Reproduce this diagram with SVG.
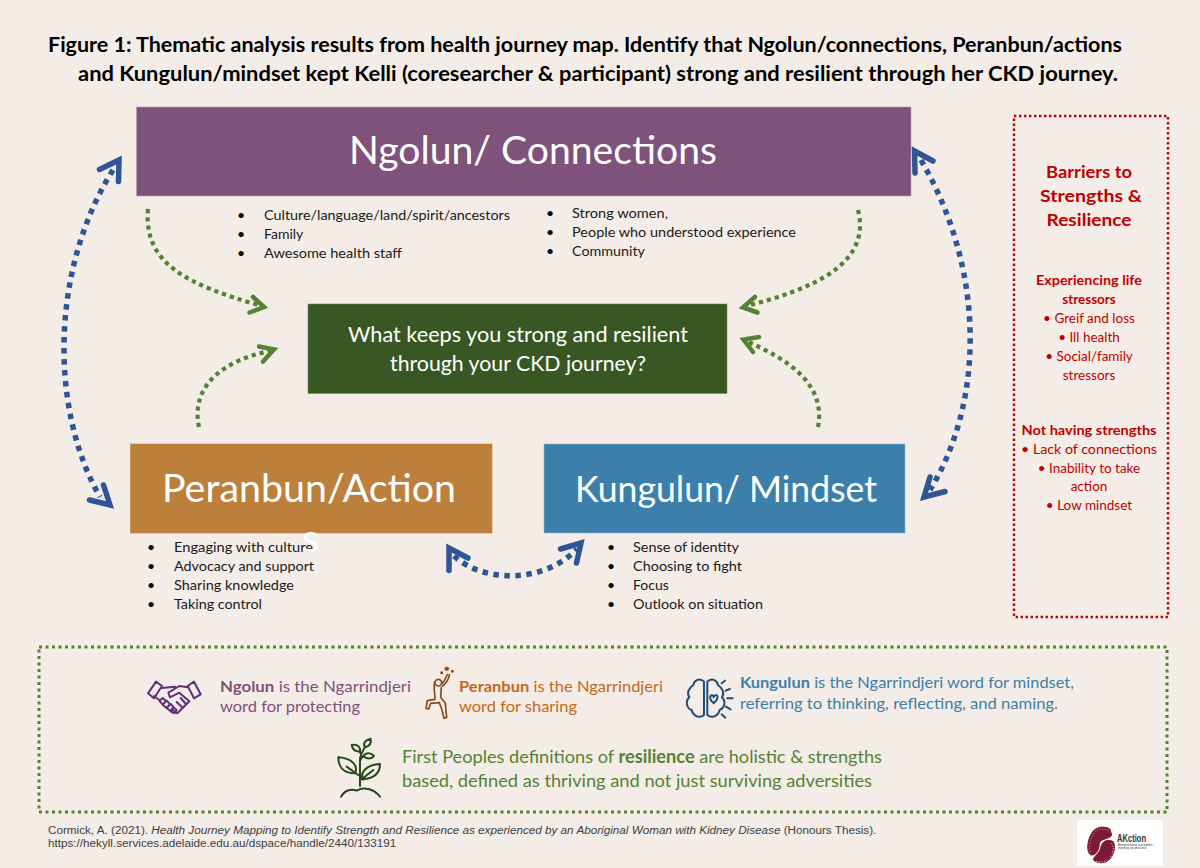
<svg xmlns="http://www.w3.org/2000/svg" width="1200" height="868" viewBox="0 0 1200 868">
<style>
text{font-family:"Lato","Open Sans","Liberation Sans",sans-serif}
.title{font-size:21.5px;font-weight:700;fill:#000;text-anchor:middle}
.big{fill:#fff}
.li{font-size:14px;fill:#1a1a1a}
.bu{font-size:14px;fill:#000}
.bt{fill:#c00000;text-anchor:middle}
.blue{fill:none;stroke:#2f5597;stroke-width:5.5;stroke-dasharray:5.5 5.5}
.green{fill:none;stroke:#548235;stroke-width:4.2;stroke-dasharray:4.2 4}
.bh{fill:none;stroke:#2f5597;stroke-width:5.5;stroke-linecap:round;stroke-linejoin:miter;stroke-miterlimit:8}
.gh{fill:none;stroke:#548235;stroke-width:4.5;stroke-linecap:round;stroke-linejoin:miter;stroke-miterlimit:8}
.ic{fill:none;stroke-linecap:round;stroke-linejoin:round}
.d{font-size:16px}
.cite{font-family:"Liberation Sans",Arial,sans-serif;font-size:11.7px;fill:#404040}
.lg{font-family:"Liberation Sans",Arial,sans-serif;fill:#333}
</style>
<rect width="1200" height="868" fill="#f4ece6"/>
<g id="title">
<text class="title" x="585" y="52" textLength="1074" lengthAdjust="spacingAndGlyphs">Figure 1: Thematic analysis results from health journey map. Identify that Ngolun/connections, Peranbun/actions</text>
<text class="title" x="598" y="81" textLength="1040" lengthAdjust="spacingAndGlyphs">and Kungulun/mindset kept Kelli (coresearcher &amp; participant) strong and resilient through her CKD journey.</text>
</g>
<g id="connectors">
<path class="blue" d="M113,170C50,270 50,410 100,497"/>
<polyline class="bh" points="99.500,169.500 119,160 118.500,181.500"/>
<polyline class="bh" points="89.500,500 110,505 103.500,485"/>
<path class="blue" d="M921,160C985,270 985,400 930,490"/>
<polyline class="bh" points="933,161 914.500,151 915,173"/>
<polyline class="bh" points="945,491.500 924,497 930,477"/>
<path class="blue" d="M454,556C482,582 542,585 577,549"/>
<polyline class="bh" points="468,558 449,548 449,570.500"/>
<polyline class="bh" points="560.500,549 581,543 576.500,563"/>
<path class="green" d="M148,209C143,265 190,285 258,305"/>
<polyline class="gh" points="253,297 264,307 249.500,312.500"/>
<path class="green" d="M199,427C190,385 225,360 270,351"/>
<polyline class="gh" points="259,346.500 274,349.500 263,361.500"/>
<path class="green" d="M858,210C872,265 810,290 746,306"/>
<polyline class="gh" points="755,297 743,307.500 757.500,312.500"/>
<path class="green" d="M818,427C826,385 790,360 746,341"/>
<polyline class="gh" points="759,337 743.500,339.500 753,352"/>
</g>
<g id="ngolun">
<rect x="136.500" y="107" width="774.500" height="89" fill="#7f527c" stroke="#b9a0b8" stroke-width=".6"/>
<text class="big" x="349" y="164" font-size="39" textLength="368" lengthAdjust="spacingAndGlyphs">Ngolun/ Connections</text>
<text class="bu" x="237" y="220">•</text><text class="li" x="264" y="220" textLength="246" lengthAdjust="spacingAndGlyphs">Culture/language/land/spirit/ancestors</text>
<text class="bu" x="237" y="239">•</text><text class="li" x="264" y="239">Family</text>
<text class="bu" x="237" y="258">•</text><text class="li" x="264" y="258" textLength="138" lengthAdjust="spacingAndGlyphs">Awesome health staff</text>
<text class="bu" x="546" y="218">•</text><text class="li" x="572" y="218" textLength="96" lengthAdjust="spacingAndGlyphs">Strong women,</text>
<text class="bu" x="546" y="237">•</text><text class="li" x="572" y="237" textLength="224" lengthAdjust="spacingAndGlyphs">People who understood experience</text>
<text class="bu" x="546" y="256">•</text><text class="li" x="572" y="256" textLength="73" lengthAdjust="spacingAndGlyphs">Community</text>
</g>
<g id="question">
<rect x="308" y="304" width="419" height="89.500" fill="#385723" stroke="#6f8f5a" stroke-width=".6"/>
<text class="big" x="518" y="342" font-size="20.500" text-anchor="middle" textLength="340" lengthAdjust="spacingAndGlyphs">What keeps you strong and resilient</text>
<text class="big" x="518" y="371" font-size="20.500" text-anchor="middle" textLength="256" lengthAdjust="spacingAndGlyphs">through your CKD journey?</text>
</g>
<g id="peranbun">
<rect x="130.500" y="444" width="361.500" height="89" fill="#bd803c" stroke="#c97f2e" stroke-width=".6"/>
<text class="big" x="162" y="502" font-size="39" textLength="294" lengthAdjust="spacingAndGlyphs">Peranbun/Action</text>
<text class="bu" x="147" y="552">•</text><text class="li" x="174" y="552" textLength="139" lengthAdjust="spacingAndGlyphs">Engaging with culture</text>
<text class="bu" x="147" y="571">•</text><text class="li" x="174" y="571" textLength="140" lengthAdjust="spacingAndGlyphs">Advocacy and support</text>
<text class="bu" x="147" y="590">•</text><text class="li" x="174" y="590" textLength="120" lengthAdjust="spacingAndGlyphs">Sharing knowledge</text>
<text class="bu" x="147" y="609">•</text><text class="li" x="174" y="609" textLength="88" lengthAdjust="spacingAndGlyphs">Taking control</text>
<text class="big" x="302" y="552" font-size="39">s</text>
</g>
<g id="kungulun">
<rect x="544" y="444" width="361" height="89" fill="#3d7fab" stroke="#8ab6d2" stroke-width=".6"/>
<text class="big" x="575" y="502" font-size="36.500" textLength="302" lengthAdjust="spacingAndGlyphs">Kungulun/ Mindset</text>
<text class="bu" x="607" y="552">•</text><text class="li" x="633" y="552" textLength="106" lengthAdjust="spacingAndGlyphs">Sense of identity</text>
<text class="bu" x="607" y="571">•</text><text class="li" x="633" y="571" textLength="109" lengthAdjust="spacingAndGlyphs">Choosing to fight</text>
<text class="bu" x="607" y="590">•</text><text class="li" x="633" y="590">Focus</text>
<text class="bu" x="607" y="609">•</text><text class="li" x="633" y="609" textLength="130" lengthAdjust="spacingAndGlyphs">Outlook on situation</text>
</g>
<g id="barriers">
<rect x="1014" y="116" width="154" height="501" fill="none" stroke="#c00000" stroke-width="2.400" stroke-dasharray="2.400 2.600"/>
<g font-size="17" font-weight="700">
<text class="bt" x="1089" y="178" textLength="86" lengthAdjust="spacingAndGlyphs">Barriers to</text>
<text class="bt" x="1091" y="202" textLength="102" lengthAdjust="spacingAndGlyphs">Strengths &amp;</text>
<text class="bt" x="1089" y="226" textLength="85" lengthAdjust="spacingAndGlyphs">Resilience</text>
</g>
<g font-size="13.500">
<text class="bt" x="1089" y="285" font-weight="700" textLength="106" lengthAdjust="spacingAndGlyphs">Experiencing life</text>
<text class="bt" x="1089" y="304" font-weight="700">stressors</text>
<text class="bt" x="1089" y="323">•  Greif and loss</text>
<text class="bt" x="1089" y="342">•  Ill health</text>
<text class="bt" x="1089" y="361">•  Social/family</text>
<text class="bt" x="1089" y="380">stressors</text>
<text class="bt" x="1089" y="435" font-weight="700" textLength="135" lengthAdjust="spacingAndGlyphs">Not having strengths</text>
<text class="bt" x="1089" y="454" textLength="136" lengthAdjust="spacingAndGlyphs">•  Lack of connections</text>
<text class="bt" x="1089" y="473">•  Inability to take</text>
<text class="bt" x="1089" y="491">action</text>
<text class="bt" x="1089" y="510">•  Low mindset</text>
</g>
</g>
<g id="definitions">
<rect x="39" y="647" width="1128" height="165" fill="none" stroke="#548235" stroke-width="3" stroke-dasharray="3 3.500"/>
<g id="def-ngolun">
<g transform="translate(120 660) scale(.3333)" class="ic" stroke="#5f2f7a" stroke-width="6">
<path d="M84,100 108,65 126,78 102,115Z M203,78 222,65 242,103 222,115Z"/>
<path d="M125,84 165,80 M203,82 178,78 145,98 150,112 178,98 208,124 172,160 155,148 M102,108 118,120"/>
<path d="M118,122 128,114 138,124 128,134Z M128,134 140,122 150,132 140,144Z M140,144 152,132 160,140 152,154Z M152,154 160,142 170,150 163,160Z M188,143 170,126 M198,132 182,114"/>
</g>
<text class="d" x="220" y="692" fill="#7f527c" textLength="191" lengthAdjust="spacingAndGlyphs"><tspan font-weight="700">Ngolun</tspan> is the Ngarrindjeri</text>
<text class="d" x="220" y="712" fill="#7f527c" textLength="140" lengthAdjust="spacingAndGlyphs">word for protecting</text>
</g>
<g id="def-peranbun">
<g transform="translate(420 660) scale(.3333)" class="ic" stroke="#8a4a17" stroke-width="5">
<circle cx="55" cy="68" r="10"/>
<path d="M66,70C76,62 76,52 82,44M68,78C78,70 86,60 88,44M44,66C40,85 45,100 45,118L22,122 18,145 26,147 32,130 58,128 66,150 72,175 80,172 76,130 62,112 64,82"/>
<path d="M80,22L83,30 75,25 86,25 77,30Z" fill="#8a4a17"/>
<circle cx="65" cy="38" r="2" fill="#8a4a17"/><circle cx="97" cy="34" r="2" fill="#8a4a17"/>
</g>
<text class="d" x="459" y="692" fill="#c5671c" textLength="204" lengthAdjust="spacingAndGlyphs"><tspan font-weight="700">Peranbun</tspan> is the Ngarrindjeri</text>
<text class="d" x="459" y="712" fill="#c5671c" textLength="118" lengthAdjust="spacingAndGlyphs">word for sharing</text>
</g>
<g id="def-kungulun">
<g transform="translate(420 660) scale(.3333)" class="ic" stroke="#1f4e79" stroke-width="6">
<path d="M852,65C840,52 822,60 820,75C805,85 800,100 808,112C795,125 800,145 815,150C820,170 840,176 852,165Z"/>
<path d="M862,65C874,52 892,60 894,75C909,85 914,100 906,112C919,125 914,145 899,150C894,170 874,176 862,165Z"/>
<path d="M881,130C868,120 868,106 876,106C880,106 881,110 881,112C881,110 884,106 888,106C896,106 894,120 881,130Z"/>
<path d="M905,70 915,62M917,92 930,87M922,115 938,115M918,140 932,148M905,163 916,173"/>
</g>
<text class="d" x="740" y="688" fill="#3d7fab" textLength="334" lengthAdjust="spacingAndGlyphs"><tspan font-weight="700">Kungulun</tspan> is the Ngarrindjeri word for mindset,</text>
<text class="d" x="740" y="709" fill="#3d7fab" textLength="318" lengthAdjust="spacingAndGlyphs">referring to thinking, reflecting, and naming.</text>
</g>
<g id="def-resilience">
<g transform="translate(120 660) scale(.3333)" class="ic" stroke="#24491a" stroke-width="6">
<path d="M720,378V300C720,285 728,275 735,262M720,305C722,295 726,290 733,288M720,278V272M720,350L730,358"/>
<path d="M655,292C700,295 715,320 705,340C670,340 655,320 655,292ZM680,320 715,345"/>
<path d="M780,312C740,315 720,335 728,358C765,355 780,340 780,312ZM760,330 725,358"/>
<path d="M752,236C735,240 728,250 735,262C750,258 755,250 752,236ZM695,255C715,250 722,265 720,275C705,275 697,270 695,255ZM762,288C750,275 735,280 730,288C740,298 755,298 762,288Z"/>
<path d="M663,410C675,390 695,385 710,392C730,380 760,385 780,410"/>
</g>
<text x="402" y="763" font-size="18" fill="#548235" textLength="480" lengthAdjust="spacingAndGlyphs">First Peoples definitions of <tspan font-weight="700">resilience</tspan> are holistic &amp; strengths</text>
<text x="402" y="787" font-size="18" fill="#548235" textLength="470" lengthAdjust="spacingAndGlyphs">based, defined as thriving and not just surviving adversities</text>
</g>
</g>
<g id="citation">
<text class="cite" x="48" y="834">Cormick, A. (2021). <tspan font-style="italic">Health Journey Mapping to Identify Strength and Resilience as experienced by an Aboriginal Woman with Kidney Disease</tspan> (Honours Thesis).</text>
<text class="cite" x="48" y="847">https://hekyll.services.adelaide.edu.au/dspace/handle/2440/133191</text>
</g>
<g id="logo">
<rect x="1077" y="820" width="86" height="46" fill="#fff"/>
<g transform="translate(1060 810) scale(.3333)">
<path fill="#7a1a36" stroke="#7a1a36" stroke-width="3" d="M150,58C135,46 105,50 95,70C82,90 78,125 92,135C108,137 118,120 118,100C120,85 150,88 155,75Z"/>
<path fill="#7a1a36" stroke="#7a1a36" stroke-width="3" d="M160,95C140,85 125,95 122,115C118,130 100,140 100,150C120,165 145,158 155,140C165,125 165,105 160,95Z"/>
<path fill="none" stroke="#e0a060" stroke-width="3" stroke-dasharray="3 5" d="M145,62C130,54 108,56 100,72C90,90 85,115 92,128"/>
<path fill="none" stroke="#f4ece6" stroke-width="3" stroke-dasharray="3 5" d="M155,100C165,115 158,135 148,146C135,157 118,158 106,152"/>
</g>
<text class="lg" x="1117" y="842" font-size="10.500" font-weight="700" textLength="29" lengthAdjust="spacingAndGlyphs">AKction</text>
<text class="lg" x="1118" y="845.500" font-size="2.600" textLength="36" lengthAdjust="spacingAndGlyphs">Aboriginal kidney care together -</text>
<text class="lg" x="1118" y="849" font-size="2.600" textLength="28" lengthAdjust="spacingAndGlyphs">improving outcomes now</text>
</g>
</svg>
